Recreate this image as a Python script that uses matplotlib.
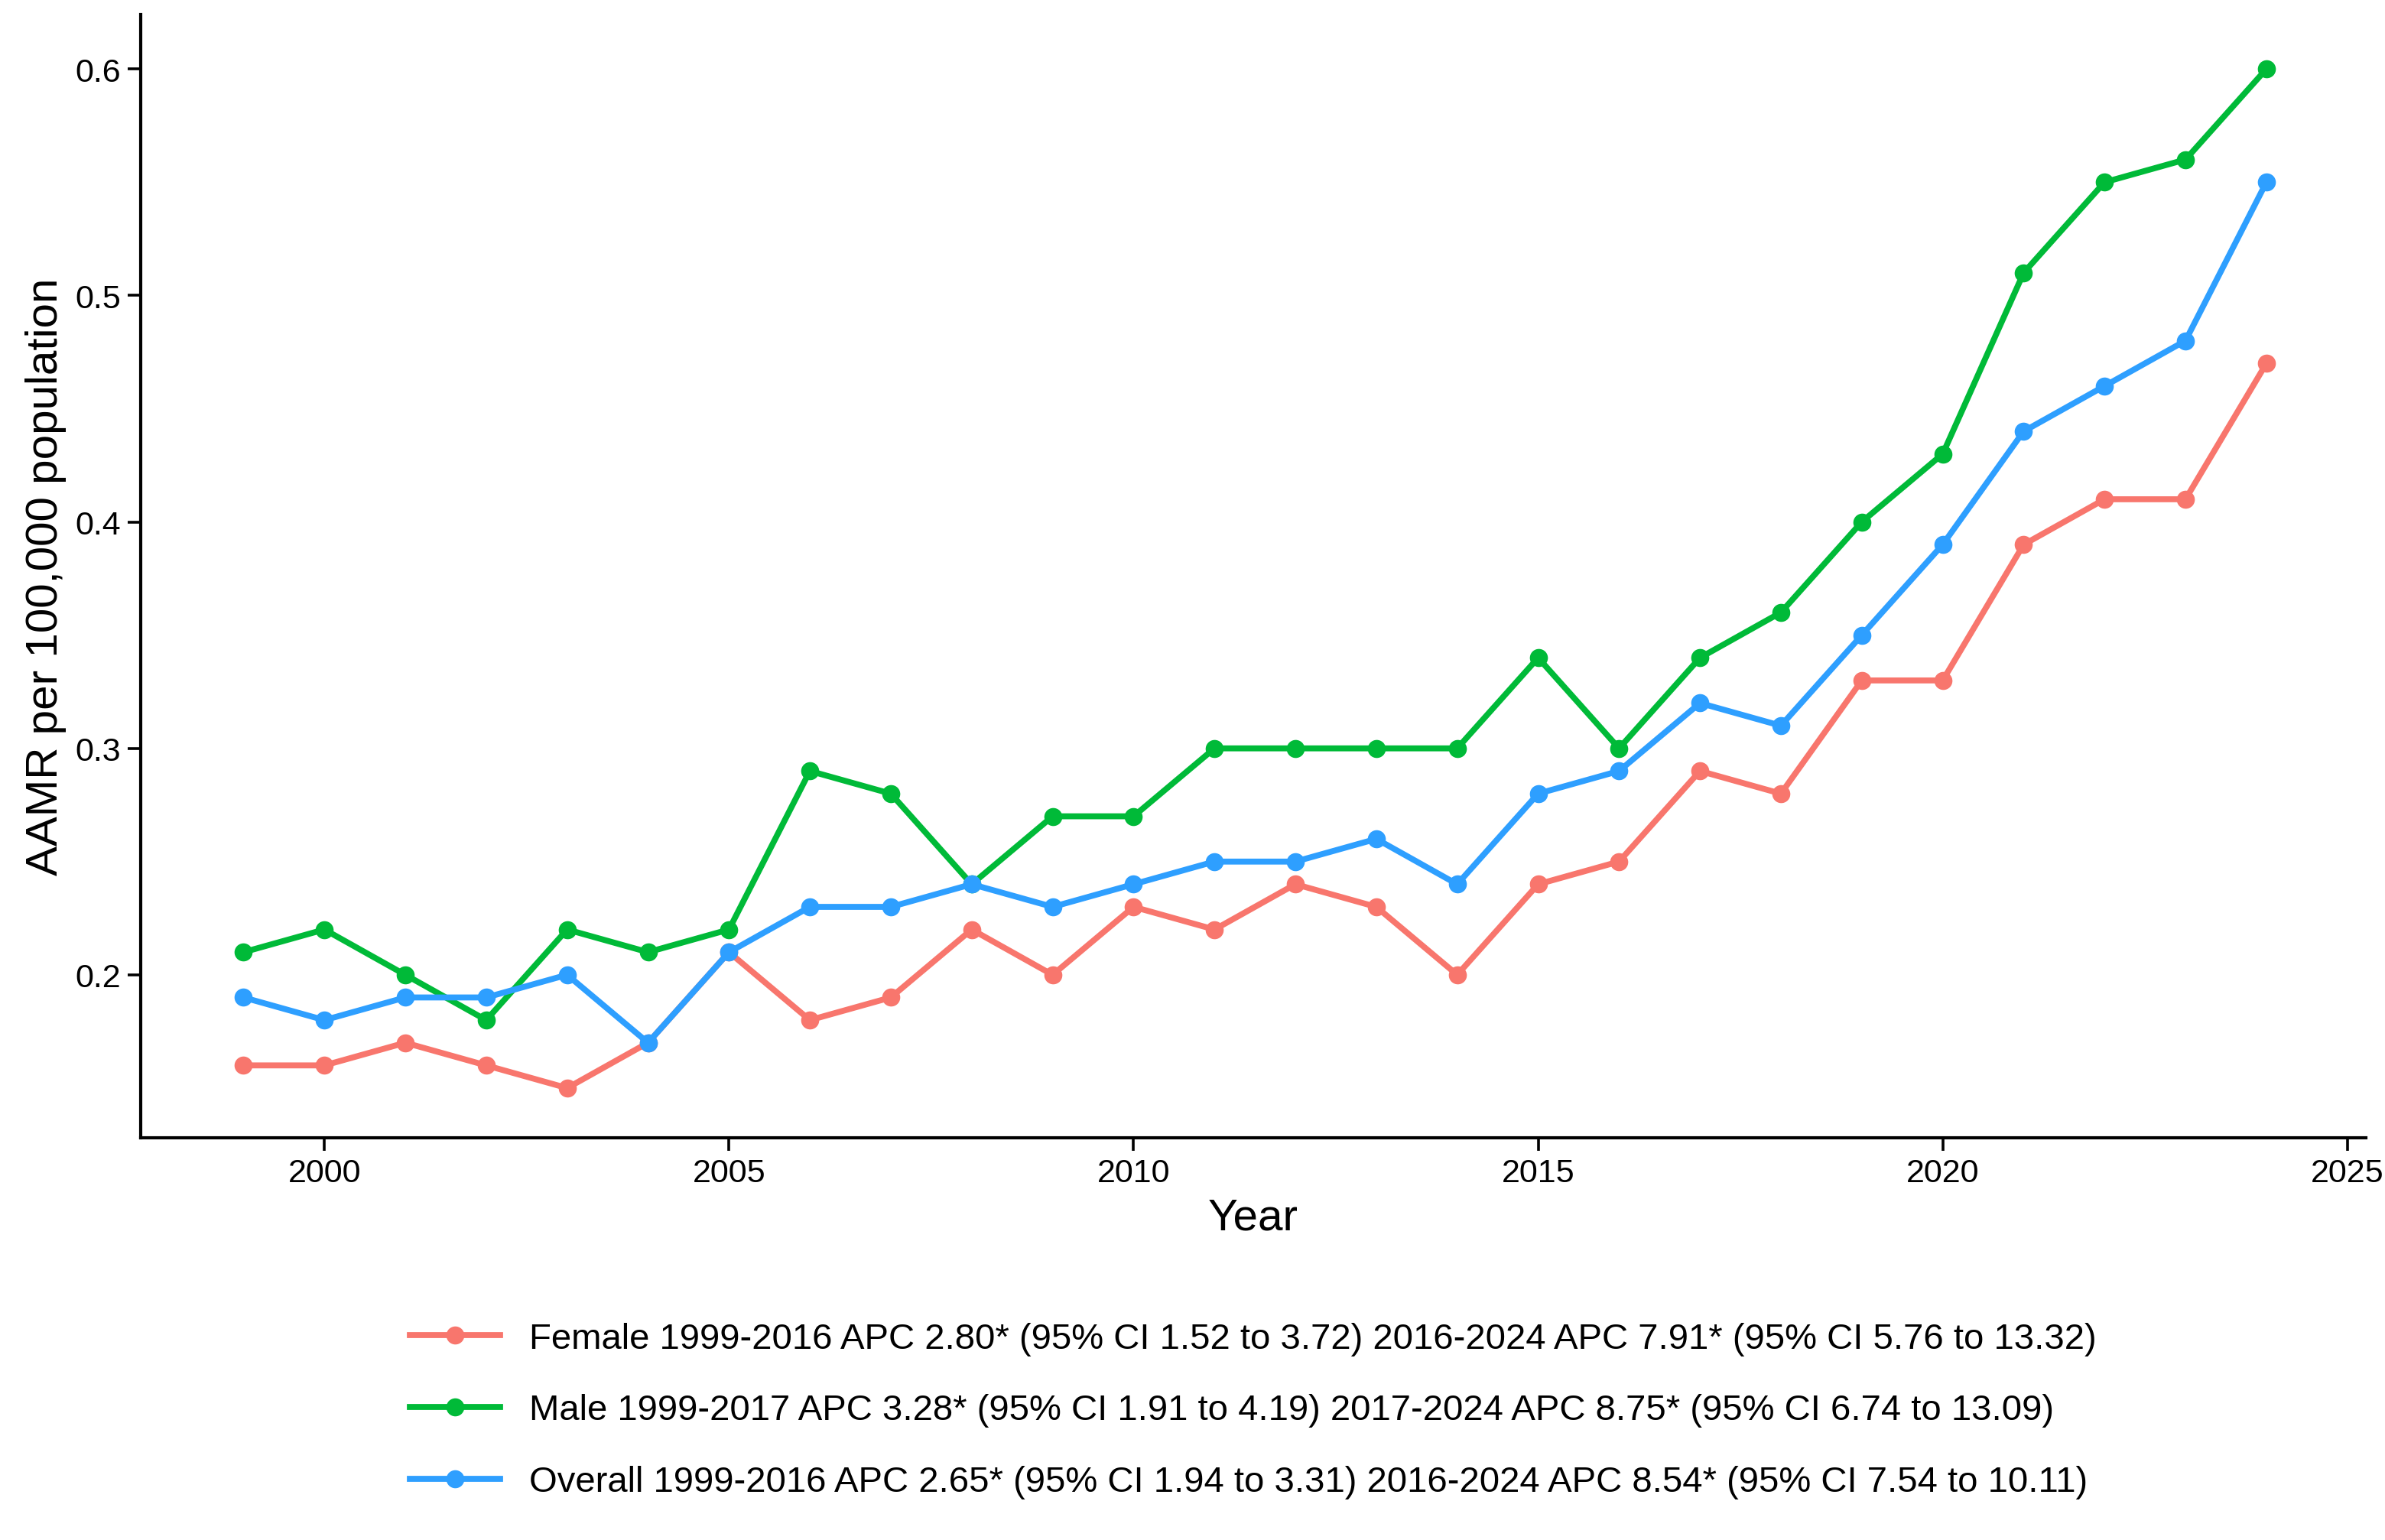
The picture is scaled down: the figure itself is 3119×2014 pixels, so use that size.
import matplotlib
matplotlib.use("Agg")
import matplotlib.pyplot as plt

years = list(range(1999, 2025))
female = [0.16, 0.16, 0.17, 0.16, 0.15, 0.17, 0.21, 0.18, 0.19, 0.22, 0.20, 0.23, 0.22,
          0.24, 0.23, 0.20, 0.24, 0.25, 0.29, 0.28, 0.33, 0.33, 0.39, 0.41, 0.41, 0.47]
male = [0.21, 0.22, 0.20, 0.18, 0.22, 0.21, 0.22, 0.29, 0.28, 0.24, 0.27, 0.27, 0.30,
        0.30, 0.30, 0.30, 0.34, 0.30, 0.34, 0.36, 0.40, 0.43, 0.51, 0.55, 0.56, 0.60]
overall = [0.19, 0.18, 0.19, 0.19, 0.20, 0.17, 0.21, 0.23, 0.23, 0.24, 0.23, 0.24, 0.25,
           0.25, 0.26, 0.24, 0.28, 0.29, 0.32, 0.31, 0.35, 0.39, 0.44, 0.46, 0.48, 0.55]
labels = ["Female 1999-2016 APC 2.80* (95% CI 1.52 to 3.72) 2016-2024 APC 7.91* (95% CI 5.76 to 13.32)",
          "Male 1999-2017 APC 3.28* (95% CI 1.91 to 4.19) 2017-2024 APC 8.75* (95% CI 6.74 to 13.09)",
          "Overall 1999-2016 APC 2.65* (95% CI 1.94 to 3.31) 2016-2024 APC 8.54* (95% CI 7.54 to 10.11)"]
colors = ["#F8766D", "#00BA38", "#2E9FFF"]

plt.rcParams['font.family'] = ['Liberation Sans', 'DejaVu Sans']

fig = plt.figure(figsize=(15.595, 10.075), dpi=200)
ax = fig.add_axes([0.059, 0.261, 0.933, 0.729])

for vals, lab, c in zip([female, male, overall], labels, colors):
    ax.plot(years, vals, color=c, lw=2.8, marker="o", ms=7.5, label=lab)

ax.set_xlim(1997.73, 2025.23)
ax.set_ylim(0.128, 0.624)
ax.set_xticks([2000, 2005, 2010, 2015, 2020, 2025])
ax.set_yticks([0.2, 0.3, 0.4, 0.5, 0.6])
ax.tick_params(labelsize=15.5, colors="black", length=6, width=1.3, direction="out")
for s in ["top", "right"]:
    ax.spines[s].set_visible(False)
for s in ["left", "bottom"]:
    ax.spines[s].set_linewidth(1.5)
ax.set_xlabel("Year", fontsize=21)
ax.set_ylabel("AAMR per 100,000 population", fontsize=21)

ax.legend(loc="upper center", bbox_to_anchor=(0.5, -0.135), frameon=False,
          fontsize=17, ncol=1, labelspacing=1.05, handlelength=2.5)

fig.savefig("out.png", dpi=200)
